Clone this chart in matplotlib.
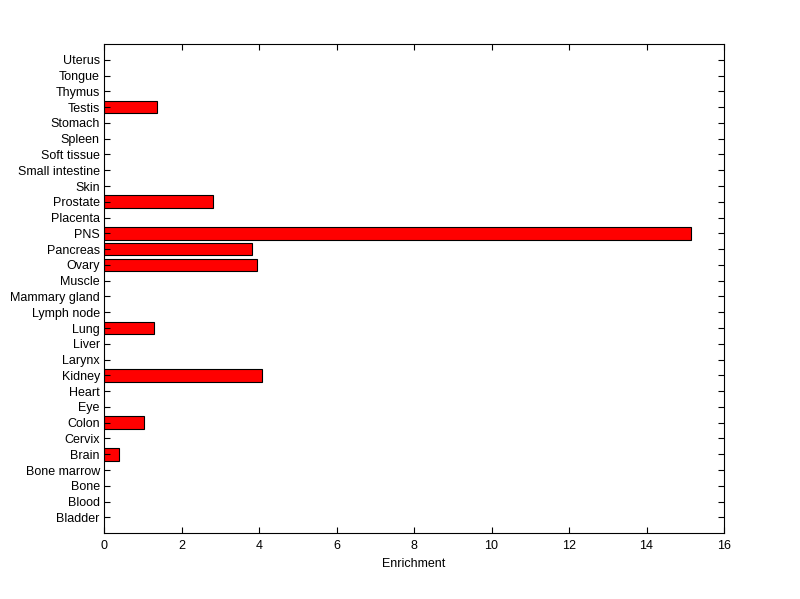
import numpy as np
import matplotlib
matplotlib.use('Agg')
import matplotlib.pyplot as plt

plt.rcParams['font.family'] = ['Liberation Sans', 'DejaVu Sans']

# Тканини (знизу вгору) та збагачення
tissues = ['Bladder', 'Blood', 'Bone', 'Bone marrow', 'Brain', 'Cervix', 'Colon',
           'Eye', 'Heart', 'Kidney', 'Larynx', 'Liver', 'Lung', 'Lymph node',
           'Mammary gland', 'Muscle', 'Ovary', 'Pancreas', 'PNS', 'Placenta',
           'Prostate', 'Skin', 'Small intestine', 'Soft tissue', 'Spleen',
           'Stomach', 'Testis', 'Thymus', 'Tongue', 'Uterus']
enrichment = [0, 0, 0, 0, 0.39, 0, 1.03,
              0, 0, 4.08, 0, 0, 1.29, 0,
              0, 0, 3.95, 3.83, 15.15, 0,
              2.82, 0, 0, 0, 0,
              0, 1.37, 0, 0, 0]
xticks = [0, 2, 4, 6, 8, 10, 12, 14, 16]

fig = plt.figure(figsize=(8, 5.99), dpi=100)
ax = fig.add_axes([0.13, 0.110, 0.775, 0.8165])

pos = np.arange(1, len(tissues) + 1)
vals = np.array(enrichment)
mask = vals > 0
ax.barh(pos[mask], vals[mask], height=0.8, color='#ff0000', edgecolor='black', linewidth=0.8)

ax.set_xlim(0, 16)
ax.set_ylim(0, len(tissues) + 1)
ax.set_xticks(xticks)
ax.set_yticks(pos)
ax.set_yticklabels(tissues)
ax.tick_params(direction='in', top=True, right=True, labelsize=9, length=4, width=0.8, pad=3)
ax.tick_params(axis='x', pad=5)
for s in ax.spines.values():
    s.set_linewidth(0.8)
ax.set_xlabel('Enrichment', fontsize=9, labelpad=4)

fig.savefig('out.png', dpi=100, facecolor='white')
